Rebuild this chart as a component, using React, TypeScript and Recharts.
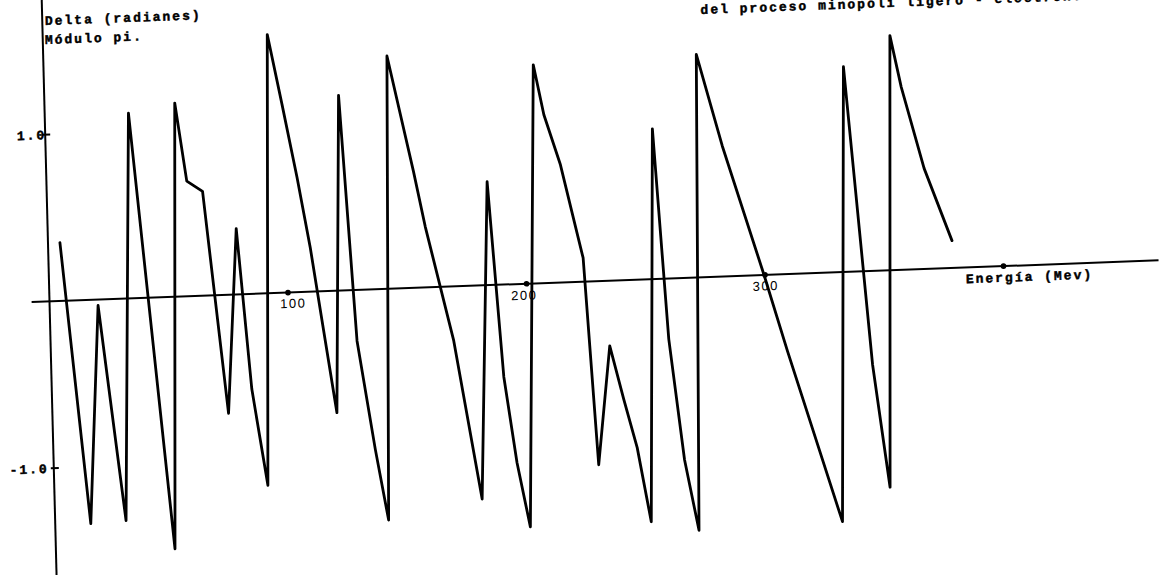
import React from 'react';
import { LineChart, Line, XAxis, YAxis, ReferenceLine, ReferenceDot } from 'recharts';

// Energy (MeV) and phase shift delta (radians, modulo pi)
const energy = [
  5.0, 14.9, 20.3, 29.7, 35.1, 49.9, 54.6, 58.8, 65.3, 73.8, 79.0, 83.8, 89.5,
  94.1, 99.5, 105.0, 109.8, 113.9, 119.2, 123.3, 128.4, 134.9, 139.7, 144.0,
  153.9, 158.2, 168.9, 179.1, 184.6, 189.5, 194.1, 199.0, 205.2, 209.1, 215.5,
  219.9, 224.0, 228.3, 234.2, 239.5, 244.6, 249.7, 254.4, 259.0, 264.3, 269.6,
  273.6, 283.5, 299.6, 308.6, 329.8, 335.1, 344.1, 350.1, 354.9, 359.1, 367.8,
  378.7,
];
const delta = [
  0.35, -1.34, -0.035, -1.33, 1.11, -1.51, 1.16, 0.69, 0.625, -0.71, 0.395, -0.57, -1.15,
  1.55, 1.13, 0.69, 0.265, -0.17, -0.73, 1.17, -0.305, -0.96, -1.385, 1.395,
  0.695, 0.365, -0.325, -1.28, 0.62, -0.553, -1.07, -1.457, 1.31, 1.008, 0.705,
  0.413, 0.142, -1.1, -0.39, -0.714, -1.006, -1.453, 0.9, -0.363, -1.089, -1.515,
  1.336, 0.782, 0.0, -0.461, -1.495, 1.23, -0.562, -1.299, 1.406, 1.095, 0.603,
  0.164,
];
const xTicks = [100, 200, 300, 400];
const xTickLabels = ['100', '200', '300', ''];
const yTicks = [1, -1];
const yTickLabels = ['1.0', '-1.0'];
const yTitle = ['Delta (radianes)', 'Módulo pi.'];
const xTitle = 'Energía (Mev)';
const topText = 'del proceso minopoli ligero - electrón.';

const data = energy.map((e, i) => ({ e, d: delta[i] }));

const W = 1160;
const H = 575;
const OX = 49.5;
const OY = 301.4;
const PX_PER_MEV = 2.385;
const PX_PER_RAD = 166.8;
const xDomain = [-OX / PX_PER_MEV, (W - OX) / PX_PER_MEV];
const yDomain = [-(H - OY) / PX_PER_RAD, OY / PX_PER_RAD];

const mono = '"Liberation Mono", "DejaVu Sans Mono", monospace';
const sans = '"Liberation Sans", Arial, sans-serif';
const ink = '#000';

const monoStyle: any = {
  fontFamily: mono,
  fontSize: 13,
  fontWeight: 700,
  letterSpacing: 2,
  fill: ink,
  stroke: ink,
  strokeWidth: 0.45,
};
const xTickDx = [5, -2.5, 0.5, 0];
const xTickDy = [15.5, 16, 15.5, 15.7];

export default function App() {
  return (
    <div style={{ position: 'absolute', left: 0, top: 0, width: W, height: H, overflow: 'hidden', background: '#fff' }}>
      <div
        style={{
          position: 'absolute',
          left: 0,
          top: 0,
          width: W,
          height: H,
          transform: 'matrix(1,-0.037,0.0258,1,0,0)',
          transformOrigin: `${OX}px ${OY}px`,
        }}
      >
        <LineChart width={W} height={H} data={data} margin={{ top: 0, right: 0, bottom: 0, left: 0 }}>
          <XAxis type="number" dataKey="e" domain={xDomain} hide allowDataOverflow />
          <YAxis type="number" domain={yDomain} hide allowDataOverflow />
          <ReferenceLine x={0} stroke={ink} strokeWidth={2} ifOverflow="visible" />
          <ReferenceLine
            segment={[{ x: -7.5, y: 0 }, { x: 465, y: 0 }]}
            stroke={ink}
            strokeWidth={2}
            ifOverflow="visible"
          />
          {yTicks.map((t, i) => (
            <ReferenceDot
              key={'yt' + i}
              x={0}
              y={t}
              r={0}
              ifOverflow="visible"
              shape={(p: any) => (
                <g>
                  <line x1={p.cx - 3} x2={p.cx + 5} y1={p.cy} y2={p.cy} stroke={ink} strokeWidth={2} />
                  <text x={p.cx + (i === 0 ? 1 : -5)} y={p.cy + 4.5} textAnchor="end" style={monoStyle}>
                    {yTickLabels[i]}
                  </text>
                </g>
              )}
            />
          ))}
          {xTicks.map((t, i) => (
            <ReferenceDot
              key={'xt' + i}
              x={t}
              y={0}
              r={2.5}
              ifOverflow="visible"
              shape={(p: any) => (
                <g>
                  <circle cx={p.cx} cy={p.cy} r={2.8} fill={ink} />
                  {xTickLabels[i] ? (
                    <text
                      x={p.cx + xTickDx[i]}
                      y={p.cy + xTickDy[i]}
                      textAnchor="middle"
                      style={{ fontFamily: sans, fontSize: 13, letterSpacing: 1.5, fill: ink }}
                    >
                      {xTickLabels[i]}
                    </text>
                  ) : (
                    <text x={p.cx - 38} y={p.cy + xTickDy[i]} style={monoStyle}>
                      {xTitle}
                    </text>
                  )}
                </g>
              )}
            />
          ))}
          <ReferenceDot
            x={0}
            y={0}
            r={0}
            ifOverflow="visible"
            shape={(p: any) => (
              <g>
                <text x={p.cx + 2.6} y={p.cy - 276.3} style={monoStyle}>
                  {yTitle[0]}
                </text>
                <text x={p.cx + 2.1} y={p.cy - 257.3} style={monoStyle}>
                  {yTitle[1]}
                </text>
                <text x={p.cx + 657.9} y={p.cy - 263.1} style={monoStyle}>
                  {topText}
                </text>
              </g>
            )}
          />
          <Line
            type="linear"
            dataKey="d"
            stroke={ink}
            strokeWidth={2.8}
            strokeLinejoin="round"
            strokeLinecap="round"
            dot={false}
            isAnimationActive={false}
          />
        </LineChart>
      </div>
    </div>
  );
}
